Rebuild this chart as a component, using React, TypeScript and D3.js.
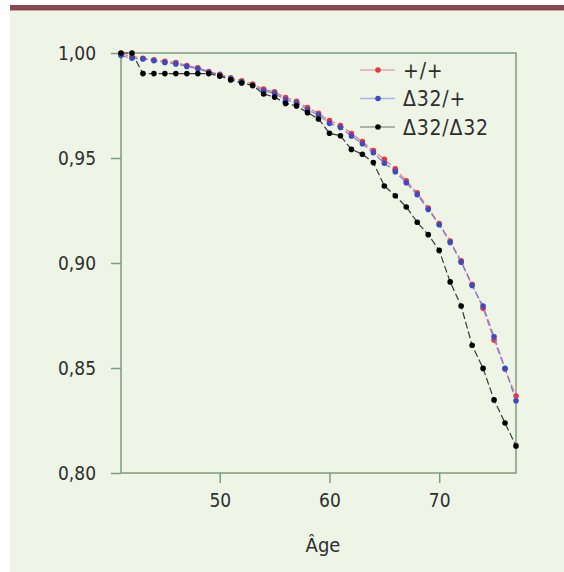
import React, { useEffect, useRef } from 'react';
import * as d3 from 'd3';

const ages = d3.range(41, 78);

// +/+
const wildType = [
  0.9995, 0.9985, 0.9975, 0.9968, 0.996, 0.9955, 0.994, 0.993, 0.9912, 0.9898,
  0.9882, 0.9868, 0.9852, 0.9828, 0.9815, 0.9788, 0.977, 0.974, 0.9713, 0.9678,
  0.9655, 0.9617, 0.9578, 0.9535, 0.9494, 0.9448, 0.9392, 0.9334, 0.9262, 0.9188,
  0.9105, 0.901, 0.8898, 0.8784, 0.8633, 0.8495, 0.8367,
];

// Δ32/+
const hetero = [
  0.9988, 0.9975, 0.9972, 0.9963, 0.9955, 0.9948, 0.9936, 0.9925, 0.9908, 0.9895,
  0.9878, 0.9862, 0.9845, 0.982, 0.9808, 0.9777, 0.9762, 0.973, 0.9705, 0.9665,
  0.9645, 0.9605, 0.9568, 0.9525, 0.9475, 0.9435, 0.9382, 0.9325, 0.9255, 0.9182,
  0.9098, 0.9004, 0.8893, 0.8795, 0.8649, 0.8498, 0.8344,
];

// Δ32/Δ32
const homo = [
  1.0, 1.0, 0.9902, 0.9902, 0.9902, 0.9902, 0.9902, 0.9902, 0.9902, 0.989,
  0.9872, 0.9857, 0.9845, 0.9805, 0.979, 0.976, 0.9748, 0.9716, 0.9686, 0.9618,
  0.9606, 0.9541, 0.9518, 0.9478, 0.9367, 0.932, 0.9267, 0.9194, 0.9135, 0.906,
  0.891, 0.8795, 0.8608, 0.8498, 0.8348, 0.8238, 0.8129,
];

const yTicks = [0.8, 0.85, 0.9, 0.95, 1.0];
const xTicks = [50, 60, 70];

const seriesList = [
  { name: '+/+', values: wildType, line: '#e07a86', dot: '#e8343a', legendLine: '#e0a8aa' },
  { name: 'Δ32/+', values: hetero, line: '#7a78d8', dot: '#3c4cc0', legendLine: '#aab4e2' },
  { name: 'Δ32/Δ32', values: homo, line: '#3a3a3a', dot: '#000000', legendLine: '#9a9a9a' },
];

const font = "'DejaVu Sans Condensed', 'DejaVu Sans', sans-serif";

const SurvivalChart = ({ width = 564, height = 572 }) => {
  const svgRef = useRef(null);

  useEffect(() => {
    const svg = d3.select(svgRef.current);
    svg.selectAll('*').remove();

    const left = 121, right = 516, top = 53, bottom = 473;
    const axisColor = '#7d9c7d';
    const textColor = '#2e2e2e';

    // background + header bar
    svg.append('rect').attr('x', 10).attr('y', 10).attr('width', width - 10).attr('height', height - 10).attr('fill', '#eef5e7');
    svg.append('rect').attr('x', 10).attr('y', 5).attr('width', width - 10).attr('height', 5).attr('fill', '#8c4650');
    svg.append('rect').attr('x', 10).attr('y', 10).attr('width', width - 10).attr('height', 1).attr('fill', '#c9a0a4');

    const x = d3.scaleLinear().domain([41, 77]).range([left, right]);
    const y = d3.scaleLinear().domain([0.8, 1.0]).range([bottom, top]);
    const fmt = (v) => d3.format('.2f')(v).replace('.', ',');

    // y axis
    const ya = svg.append('g')
      .attr('transform', `translate(${left},0)`)
      .call(d3.axisLeft(y).tickValues(yTicks).tickSize(10).tickPadding(15).tickFormat(fmt));
    ya.select('.domain').remove();

    // x axis
    const xa = svg.append('g')
      .attr('transform', `translate(0,${bottom})`)
      .call(d3.axisBottom(x).tickValues(xTicks).tickSize(10).tickPadding(11).tickFormat(d3.format('d')));
    xa.select('.domain').remove();

    [ya, xa].forEach(a => {
      a.selectAll('line').attr('stroke', axisColor).attr('stroke-width', 1.5);
      a.selectAll('text')
        .attr('fill', textColor)
        .style('font-family', font)
        .style('font-stretch', 'condensed')
        .style('font-size', '19px');
    });

    // frame
    svg.append('rect')
      .attr('x', left).attr('y', top)
      .attr('width', right - left).attr('height', bottom - top)
      .attr('fill', 'none').attr('stroke', axisColor).attr('stroke-width', 1.5);

    svg.append('text')
      .attr('x', 323).attr('y', 552)
      .attr('text-anchor', 'middle')
      .attr('fill', textColor)
      .style('font-family', font)
      .style('font-stretch', 'condensed')
      .style('font-size', '20px')
      .text('Âge');

    // series
    const line = d3.line().x((d, i) => x(ages[i])).y(d => y(d));
    seriesList.forEach(s => {
      svg.append('path')
        .datum(s.values)
        .attr('d', line)
        .attr('fill', 'none')
        .attr('stroke', s.line)
        .attr('stroke-width', 1.2)
        .attr('stroke-dasharray', '7,3');
      svg.selectAll(null)
        .data(s.values)
        .enter().append('circle')
        .attr('cx', (d, i) => x(ages[i]))
        .attr('cy', d => y(d))
        .attr('r', 2.8)
        .attr('fill', s.dot);
    });

    // legend
    const lg = svg.append('g');
    seriesList.forEach((s, i) => {
      const ly = 70 + i * 28.5;
      lg.append('line')
        .attr('x1', 360).attr('x2', 395).attr('y1', ly).attr('y2', ly)
        .attr('stroke', s.legendLine).attr('stroke-width', 1.5);
      lg.append('circle').attr('cx', 378).attr('cy', ly).attr('r', 2.8).attr('fill', s.dot);
      lg.append('text')
        .attr('x', 403).attr('y', ly + 7.5)
        .attr('fill', textColor)
        .style('font-family', font)
        .style('font-stretch', 'condensed')
        .style('font-size', '21px')
        .style('letter-spacing', '0.8px')
        .text(s.name);
    });
  }, [width, height]);

  return (
    <svg ref={svgRef} width={width} height={height}
      style={{ position: 'absolute', left: 0, top: 0 }} />
  );
};

export default function App() {
  return <SurvivalChart />;
}
